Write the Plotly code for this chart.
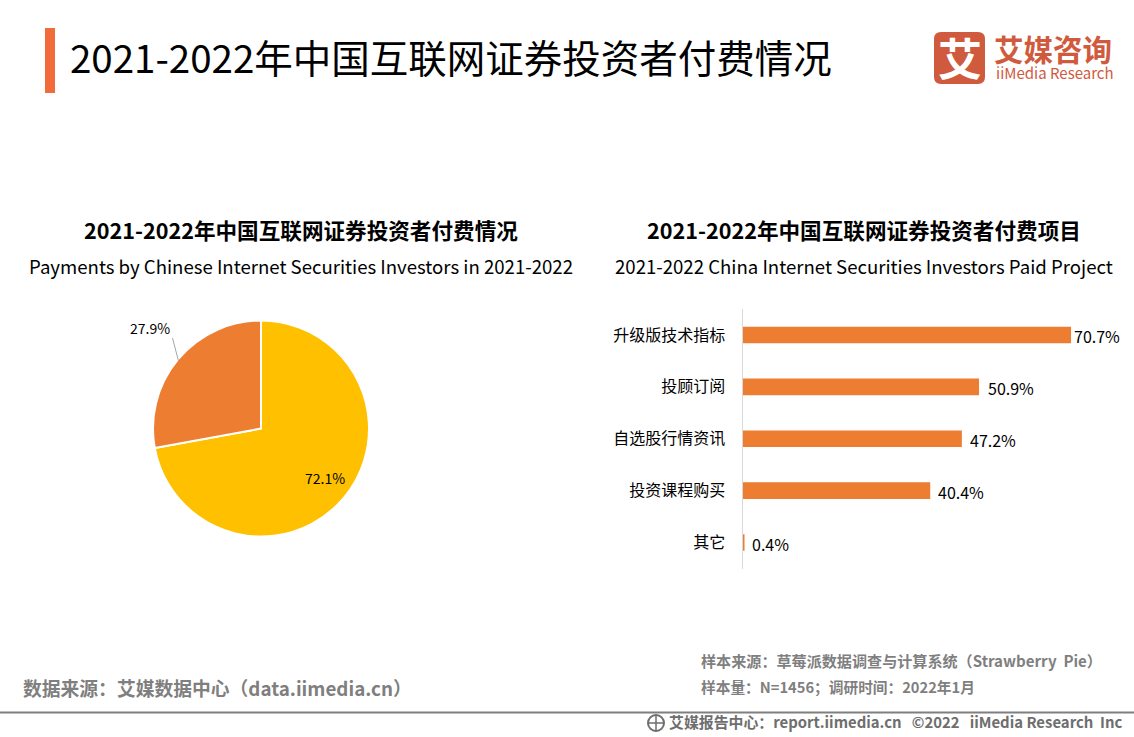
import plotly.graph_objects as go

W, H = 1134, 737
FONT = "Noto Sans CJK SC"

# pie data
pie_labels = ["付费", "未付费"]
pie_values = [72.1, 27.9]
pie_colors = ["#FFC000", "#ED7D31"]

# bar data
bar_cats = ["升级版技术指标", "投顾订阅", "自选股行情资讯", "投资课程购买", "其它"]
bar_values = [70.7, 50.9, 47.2, 40.4, 0.4]
bar_shift = [1, 7, 6, 6, 6]

PX_PER_UNIT = 4.647


def px(x):
    return x / W


def py(y):
    return 1 - y / H


def text(x, y, s, size, color="#000000", anchor="left"):
    return dict(x=px(x), y=py(y), xref="paper", yref="paper", text=s, showarrow=False,
                xanchor=anchor, yanchor="middle", align=anchor,
                font=dict(family=FONT, size=size, color=color))


fig = go.Figure()

fig.add_trace(go.Pie(
    labels=pie_labels, values=pie_values, sort=False, direction="clockwise", rotation=0,
    marker=dict(colors=pie_colors, line=dict(color="#FFFFFF", width=2)),
    textinfo="none", showlegend=False,
    domain=dict(x=[px(153), px(369)], y=[py(536.5), py(320.5)]),
))

fig.add_trace(go.Bar(
    x=bar_values, y=bar_cats, orientation="h", width=0.32,
    marker=dict(color="#ED7D31", line=dict(width=0)), showlegend=False,
))

annotations = [
    text(68, 56, "2021-2022年中国互联网证券投资者付费情况", 38.5),
    text(301, 229, "<b>2021-2022年中国互联网证券投资者付费情况</b>", 21.6, anchor="center"),
    text(301, 265, "Payments by Chinese Internet Securities Investors in 2021-2022", 18.6, anchor="center"),
    text(864, 229, "<b>2021-2022年中国互联网证券投资者付费项目</b>", 21.6, anchor="center"),
    text(864, 265, "2021-2022 China Internet Securities Investors Paid Project", 18.6, anchor="center"),
    text(150, 328, "%.1f%%" % pie_values[1], 14, anchor="center"),
    text(325, 478, "%.1f%%" % pie_values[0], 14, anchor="center"),
    text(21, 687, "<b>数据来源：艾媒数据中心（data.iimedia.cn）</b>", 18.8, "#7F7F7F"),
    text(699, 660, "<b>样本来源：草莓派数据调查与计算系统（Strawberry  Pie）</b>", 15.1, "#7F7F7F"),
    text(699, 686, "<b>样本量：N=1456；调研时间：2022年1月</b>", 14.7, "#7F7F7F"),
    text(667, 721, "<b>艾媒报告中心：report.iimedia.cn   ©2022   iiMedia Research  Inc</b>", 14.9, "#6E6E6E"),
    text(959.5, 57, "<b>艾</b>", 44, "#FFFFFF", anchor="center"),
    text(992, 48, "<b>艾媒咨询</b>", 29.5, "#D05A3E"),
    text(994, 72, "iiMedia Research", 15, "#D05A3E"),
]

# value labels on the bars
for cat, val, shift in zip(bar_cats, bar_values, bar_shift):
    annotations.append(dict(
        x=val, y=cat, xref="x", yref="y", text="%.1f%%" % val, showarrow=False,
        xanchor="left", yanchor="middle", xshift=shift, yshift=-1,
        font=dict(family=FONT, size=16, color="#000000"),
    ))

def rect(x0, y0, x1, y1, color):
    return dict(type="rect", xref="paper", yref="paper", x0=px(x0), x1=px(x1), y0=py(y0), y1=py(y1),
                fillcolor=color, line=dict(width=0), layer="below")


def line(x0, y0, x1, y1, color, width=1):
    return dict(type="line", xref="paper", yref="paper", x0=px(x0), x1=px(x1), y0=py(y0), y1=py(y1),
                line=dict(color=color, width=width))


# rounded logo square
r = 7
lx0, ly0, lx1, ly1 = px(934), py(32), px(985), py(84)
rx, ry = r / W, r / H
logo_path = (f"M {lx0 + rx} {ly0} L {lx1 - rx} {ly0} Q {lx1} {ly0} {lx1} {ly0 - ry} "
             f"L {lx1} {ly1 + ry} Q {lx1} {ly1} {lx1 - rx} {ly1} L {lx0 + rx} {ly1} "
             f"Q {lx0} {ly1} {lx0} {ly1 + ry} L {lx0} {ly0 - ry} Q {lx0} {ly0} {lx0 + rx} {ly0} Z")

shapes = [
    rect(45, 28, 55, 93, "#F26B3A"),
    dict(type="path", xref="paper", yref="paper", path=logo_path, fillcolor="#D05A3E",
         line=dict(width=0), layer="below"),
    line(172.5, 338, 178.5, 361, "#A6A6A6"),
    line(0, 712.5, W, 712.5, "#7F7F7F", 2),
    # globe icon in the footer
    dict(type="circle", xref="paper", yref="paper", x0=px(648), x1=px(664), y0=py(715), y1=py(731),
         fillcolor="#FFFFFF", line=dict(color="#6E6E6E", width=2)),
    line(648, 723, 664, 723, "#6E6E6E", 1.5),
    line(656, 715, 656, 731, "#6E6E6E", 1.5),
]

fig.update_layout(
    width=W, height=H, margin=dict(l=0, r=0, t=0, b=0),
    paper_bgcolor="#FFFFFF", plot_bgcolor="#FFFFFF",
    font=dict(family=FONT),
    annotations=annotations, shapes=shapes,
    xaxis=dict(domain=[px(742.5), px(1100)], range=[0, (1100 - 742.5) / PX_PER_UNIT],
               visible=False, fixedrange=True),
    yaxis=dict(domain=[py(568.5), py(309)], autorange="reversed", showgrid=False,
               showline=True, linecolor="#D9D9D9", linewidth=1, ticks="",
               ticklabelstandoff=13, tickfont=dict(family=FONT, size=16, color="#000000"),
               fixedrange=True),
)

# the page body has a default 8px margin
fig.write_html("out.html", post_script="document.body.style.margin='0';",
               config=dict(displayModeBar=False))
